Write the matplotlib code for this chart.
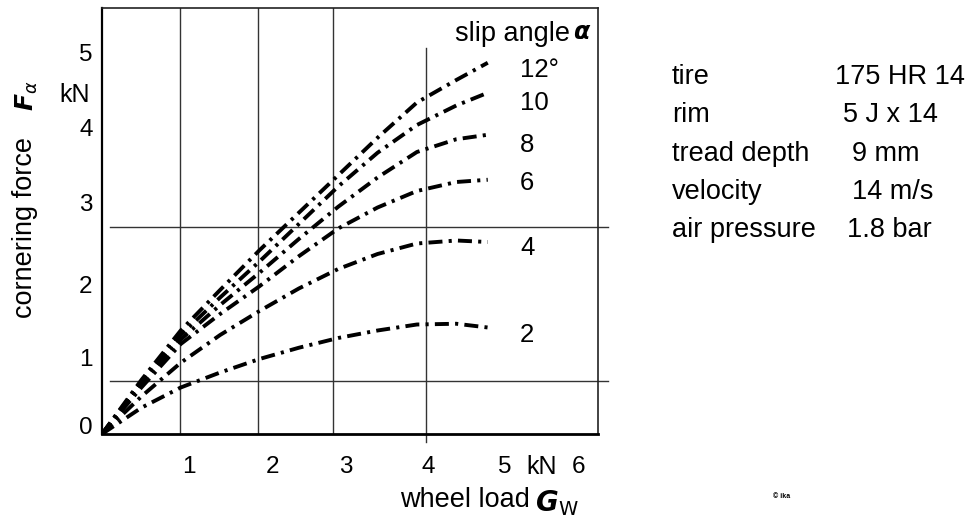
import matplotlib
matplotlib.use("Agg")
import matplotlib.pyplot as plt

plt.rcParams['font.family'] = ['Liberation Sans', 'DejaVu Sans']

# wheel load G_W in kN
load = [0, 0.5, 1, 1.5, 2, 2.5, 3, 3.5, 4, 4.5, 4.9]

# cornering force F_alpha in kN for each slip angle
f_2 = [0, 0.35, 0.62, 0.82, 1.00, 1.15, 1.28, 1.38, 1.46, 1.47, 1.42]
f_4 = [0, 0.50, 0.95, 1.32, 1.64, 1.94, 2.20, 2.40, 2.54, 2.58, 2.56]
f_6 = [0, 0.62, 1.20, 1.60, 1.97, 2.37, 2.74, 3.02, 3.24, 3.36, 3.39]
f_8 = [0, 0.68, 1.26, 1.72, 2.15, 2.60, 3.03, 3.42, 3.76, 3.93, 3.99]
f_10 = [0, 0.70, 1.32, 1.82, 2.30, 2.80, 3.30, 3.75, 4.12, 4.38, 4.55]
f_12 = [0, 0.72, 1.38, 1.92, 2.45, 2.95, 3.45, 3.95, 4.42, 4.72, 4.95]

curves = [f_2, f_4, f_6, f_8, f_10, f_12]
curve_labels = ["2", "4", "6", "8", "10", "12°"]
curve_label_y = [1.32, 2.48, 3.35, 3.85, 4.41, 4.85]

x_ticks = [1, 2, 3, 4, 5, 6]
x_tick_pos = [1.10, 2.17, 3.10, 4.14, 5.12, 6.05]
y_ticks = [0, 1, 2, 3, 4, 5]
y_tick_pos = [0.08, 0.99, 1.96, 3.05, 4.05, 5.05]

# grid lines as drawn in the original (not exactly on the ticks)
v_grid = [0.99, 1.98, 2.94]
v_grid_4 = 4.12
h_grid = [0.71, 2.76]

table_keys = ["tire", "rim", "tread depth", "velocity", "air pressure"]
table_vals = ["175 HR 14", "5 J x 14", "9 mm", "14 m/s", "1.8 bar"]
table_val_x = [835, 843, 852, 852, 847]

W, H = 975, 525
fig = plt.figure(figsize=(W / 100, H / 100), dpi=100)
ax = fig.add_axes([102 / W, 1 - 434 / H, 496 / W, 426 / H])
ax.set_xlim(0, 6.3)
ax.set_ylim(0, 5.68)
ax.set_xticks([])
ax.set_yticks([])
for side in ['top', 'right']:
    ax.spines[side].set_linewidth(1.2)
    ax.spines[side].set_color('#222222')
ax.spines['left'].set_linewidth(1.6)
ax.spines['bottom'].set_linewidth(2.0)

gcol = '#333333'
for gx in v_grid:
    ax.plot([gx, gx], [0, 5.68], color=gcol, lw=1.0, zorder=1)
ax.plot([v_grid_4, v_grid_4], [-0.1, 5.15], color=gcol, lw=1.0,
        zorder=1, clip_on=False)
for gy in h_grid:
    ax.plot([0.1, 6.43], [gy, gy], color=gcol, lw=1.0, zorder=1,
            clip_on=False)

for f in curves:
    ax.plot(load, f, color='black', lw=2.8, dashes=(3.6, 1.6, 0.8, 1.6),
            solid_capstyle='butt', dash_capstyle='butt', zorder=3)

for lab, ly in zip(curve_labels, curve_label_y):
    ax.text(5.31, ly, lab, fontsize=18.5, ha='left', va='center')

ax.text(4.49, 5.33, "slip angle", fontsize=19.5, ha='left', va='center')
ax.text(5.98, 5.35, r"$\boldsymbol{\alpha}$", fontsize=17, ha='left',
        va='center')

for t, p in zip(x_ticks, x_tick_pos):
    ax.text(p, -0.44, str(t), fontsize=17.5, ha='center', va='center',
            clip_on=False)
ax.text(5.59, -0.44, "kN", fontsize=18, ha='center', va='center')
for t, p in zip(y_ticks, y_tick_pos):
    ax.text(-0.12, p, str(t), fontsize=17.5, ha='right', va='center')
ax.text(-0.15, 4.52, "kN", fontsize=18, ha='right', va='center')

# axis titles
fig.text(25 / W, 1 - 228 / H, "cornering force", fontsize=19.5,
         rotation=90, ha='center', va='center')
fig.text(27 / W, 1 - 96 / H, r"$\boldsymbol{F}_{\alpha}$", fontsize=18,
         rotation=90, ha='center', va='center')
fig.text(400 / W, 1 - 500 / H, "wheel load", fontsize=19.5, ha='left',
         va='center')
fig.text(535 / W, 1 - 503 / H, r"$\boldsymbol{G}_{\mathrm{W}}$", fontsize=20,
         ha='left', va='center')

for i, (k, v, vx) in enumerate(zip(table_keys, table_vals, table_val_x)):
    y = 77 + i * 38.3
    fig.text(672 / W, 1 - y / H, k, fontsize=19.5, ha='left', va='center')
    fig.text(vx / W, 1 - y / H, v, fontsize=19.5, ha='left', va='center')

fig.text(773 / W, 1 - 496 / H, "© ika", fontsize=5, fontweight='bold',
         ha='left', va='center')

fig.savefig("out.png", dpi=100)
